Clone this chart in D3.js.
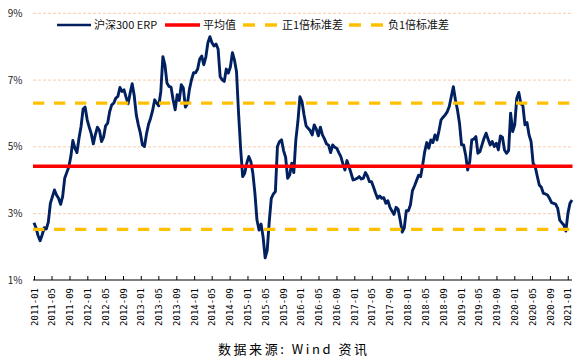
<!DOCTYPE html>
<html>
<head>
<meta charset="utf-8">
<script src="https://cdn.jsdelivr.net/npm/d3@7"></script>
<style>
  body { margin: 0; background: #fff; }
  svg { display: block; font-family: "Noto Sans CJK SC", "Noto Sans", sans-serif; }
</style>
</head>
<body>
<div id="chart"></div>
<script>

// ---- data (one value every two weeks) ----
var startDate = "2011-01-01";
var stepDays = 14;

var erpValues = [
	2.73, 2.57, 2.34, 2.19, 2.37, 2.58, 2.54, 2.75, 3.31, 3.51,
	3.71, 3.56, 3.46, 3.28, 3.51, 4.06, 4.23, 4.40, 4.71, 5.19,
	4.96, 4.83, 5.26, 5.61, 6.13, 6.19, 5.81, 5.59, 5.39, 5.09,
	5.37, 5.59, 5.49, 5.16, 5.29, 5.63, 5.71, 6.06, 6.26, 6.31,
	6.46, 6.51, 6.78, 6.66, 6.71, 6.49, 6.29, 6.61, 6.89, 6.53,
	5.96, 5.66, 5.41, 5.06, 5.01, 5.39, 5.68, 5.86, 6.09, 6.41,
	6.31, 6.23, 6.66, 7.70, 7.46, 6.91, 6.81, 6.79, 6.41, 6.11,
	6.56, 6.39, 6.86, 6.76, 6.19, 6.29, 6.73, 7.01, 7.22, 7.22,
	7.33, 7.63, 7.72, 7.46, 7.69, 8.12, 8.30, 8.12, 8.02, 8.08,
	7.93, 7.10, 7.01, 6.96, 7.33, 7.21, 7.39, 7.82, 7.60, 7.25,
	6.01, 4.96, 4.11, 4.21, 4.51, 4.71, 4.56, 4.21, 3.61, 2.81,
	2.51, 2.69, 2.30, 1.68, 1.90, 2.76, 3.46, 3.59, 3.66, 5.01,
	5.16, 5.21, 4.89, 4.69, 4.06, 4.16, 4.51, 4.23, 5.21, 5.76,
	6.50, 6.36, 5.96, 5.63, 5.56, 5.49, 5.36, 5.66, 5.53, 5.33,
	5.59, 5.36, 5.24, 5.09, 5.05, 4.83, 5.06, 4.99, 4.96, 4.83,
	4.71, 4.49, 4.31, 4.59, 4.41, 4.21, 4.01, 4.03, 4.06, 4.11,
	4.04, 4.06, 4.23, 4.13, 3.96, 3.96, 3.79, 3.61, 3.46, 3.53,
	3.46, 3.48, 3.31, 3.39, 3.19, 3.08, 2.98, 3.19, 3.13, 2.81,
	2.45, 2.57, 3.09, 3.09, 3.26, 3.69, 3.83, 3.99, 4.15, 4.11,
	4.46, 4.86, 5.13, 4.96, 5.21, 5.13, 5.36, 5.21, 5.49, 5.81,
	5.89, 5.96, 6.05, 6.21, 6.51, 6.80, 6.41, 6.11, 5.71, 5.06,
	5.06, 4.76, 4.31, 4.56, 5.21, 5.23, 5.31, 4.81, 4.86, 5.06,
	5.26, 5.41, 5.23, 5.06, 5.16, 5.01, 5.11, 4.91, 5.33, 5.29,
	4.91, 4.81, 4.89, 6.01, 5.46, 5.66, 6.46, 6.63, 6.29, 6.23,
	5.66, 5.73, 5.36, 5.16, 4.51, 4.41, 4.13, 3.86, 3.79, 3.61,
	3.59, 3.56, 3.46, 3.33, 3.31, 3.29, 3.16, 2.81, 2.73, 2.66,
	2.48, 3.01, 3.31, 3.41
];

var meanValue = 4.42;
var upperValue = 6.31;
var lowerValue = 2.53;

var yTickValues = [1, 3, 5, 7, 9];
var gridValues = [3, 5, 7, 9];

var seriesNames = ["沪深300 ERP", "平均值", "正1倍标准差", "负1倍标准差"];
var sourceText = "数据来源: Wind 资讯";

// ---- styles ----
var navy = "#002060", red = "#FF0000", gold = "#FFC000", gridColor = "#F8CBAD";

var width = 581, height = 363;

var svg = d3.select("#chart").append("svg")
		.attr("width", width)
		.attr("height", height);

var t0 = d3.timeParse("%Y-%m-%d")(startDate);
var points = erpValues.map(function(v, i) {
	return { date: d3.timeDay.offset(t0, i * stepDays), value: v };
});
var tEnd = points[points.length - 1].date;

var x = d3.scaleTime()
		.domain([t0, tEnd])
		.range([34, 572]);

var y = d3.scaleLinear()
		.domain([1, 9])
		.range([280.5, 13.3]);

// gridlines
svg.selectAll(".grid").data(gridValues)
	.enter().append("line")
		.attr("class", "grid")
		.attr("x1", 33)
		.attr("x2", 572)
		.attr("y1", function(d) { return y(d); })
		.attr("y2", function(d) { return y(d); })
		.attr("stroke", gridColor)
		.attr("stroke-width", 1)
		.attr("stroke-dasharray", "3,2");

// y labels
svg.selectAll(".ylab").data(yTickValues)
	.enter().append("text")
		.attr("class", "ylab")
		.attr("x", 22.5)
		.attr("y", function(d) { return y(d); })
		.attr("dy", "0.35em")
		.attr("text-anchor", "end")
		.attr("font-size", "10px")
		.attr("fill", "#222")
		.text(function(d) { return d + "%"; });

// x axis
var xAxis = d3.axisBottom(x)
		.ticks(d3.timeMonth.every(4))
		.tickFormat(d3.timeFormat("%Y-%m"))
		.tickSizeInner(-4)
		.tickSizeOuter(0);

var gx = svg.append("g")
		.attr("transform", "translate(0,280)")
		.call(xAxis);
gx.select(".domain").attr("stroke", "#000").attr("d", "M33,0H572");
gx.selectAll(".tick line").attr("stroke", "#000");
gx.selectAll(".tick text")
		.attr("transform", "rotate(-90)")
		.attr("x", -8)
		.attr("y", 0)
		.attr("dy", "0.35em")
		.attr("text-anchor", "end")
		.attr("font-family", "'DejaVu Sans Mono', monospace")
		.attr("font-size", "9px")
		.attr("fill", "#000");

// ERP line
var line = d3.line()
		.x(function(d) { return x(d.date); })
		.y(function(d) { return y(d.value); });

svg.append("path")
		.datum(points)
		.attr("fill", "none")
		.attr("stroke", navy)
		.attr("stroke-width", 2.9)
		.attr("stroke-linejoin", "round")
		.attr("d", line);

// mean and +/- 1 sd lines
var levels = [
	{ value: meanValue, color: red, dash: null },
	{ value: upperValue, color: gold, dash: "11.3,9.7" },
	{ value: lowerValue, color: gold, dash: "11.3,9.7" }
];

svg.selectAll(".level").data(levels)
	.enter().append("line")
		.attr("class", "level")
		.attr("x1", 33)
		.attr("x2", 572.5)
		.attr("y1", function(d) { return y(d.value); })
		.attr("y2", function(d) { return y(d.value); })
		.attr("stroke", function(d) { return d.color; })
		.attr("stroke-width", 3.3)
		.attr("stroke-dasharray", function(d) { return d.dash; });

// legend
var legendLayout = [
	{ x1: 57, x2: 91, tx: 94, color: navy, w: 2.6, dash: null },
	{ x1: 165, x2: 200, tx: 203, color: red, w: 3.3, dash: null },
	{ x1: 243, x2: 277, tx: 282, color: gold, w: 3.3, dash: "12,10" },
	{ x1: 349, x2: 383, tx: 388, color: gold, w: 3.3, dash: "12,10" }
];

var legend = svg.selectAll(".legend").data(legendLayout)
	.enter().append("g")
		.attr("class", "legend");

legend.append("line")
		.attr("x1", function(d) { return d.x1; })
		.attr("x2", function(d) { return d.x2; })
		.attr("y1", 25)
		.attr("y2", 25)
		.attr("stroke", function(d) { return d.color; })
		.attr("stroke-width", function(d) { return d.w; })
		.attr("stroke-dasharray", function(d) { return d.dash; });

legend.append("text")
		.attr("x", function(d) { return d.tx; })
		.attr("y", 25)
		.attr("dy", "0.35em")
		.attr("font-size", "11px")
		.attr("fill", "#111")
		.text(function(d, i) { return seriesNames[i]; });

// source note
svg.append("text")
		.attr("x", 218)
		.attr("y", 349)
		.attr("dy", "0.35em")
		.attr("font-size", "13px")
		.attr("fill", "#000")
		.attr("textLength", 149)
		.attr("lengthAdjust", "spacing")
		.text(sourceText);

</script>
</body>
</html>
